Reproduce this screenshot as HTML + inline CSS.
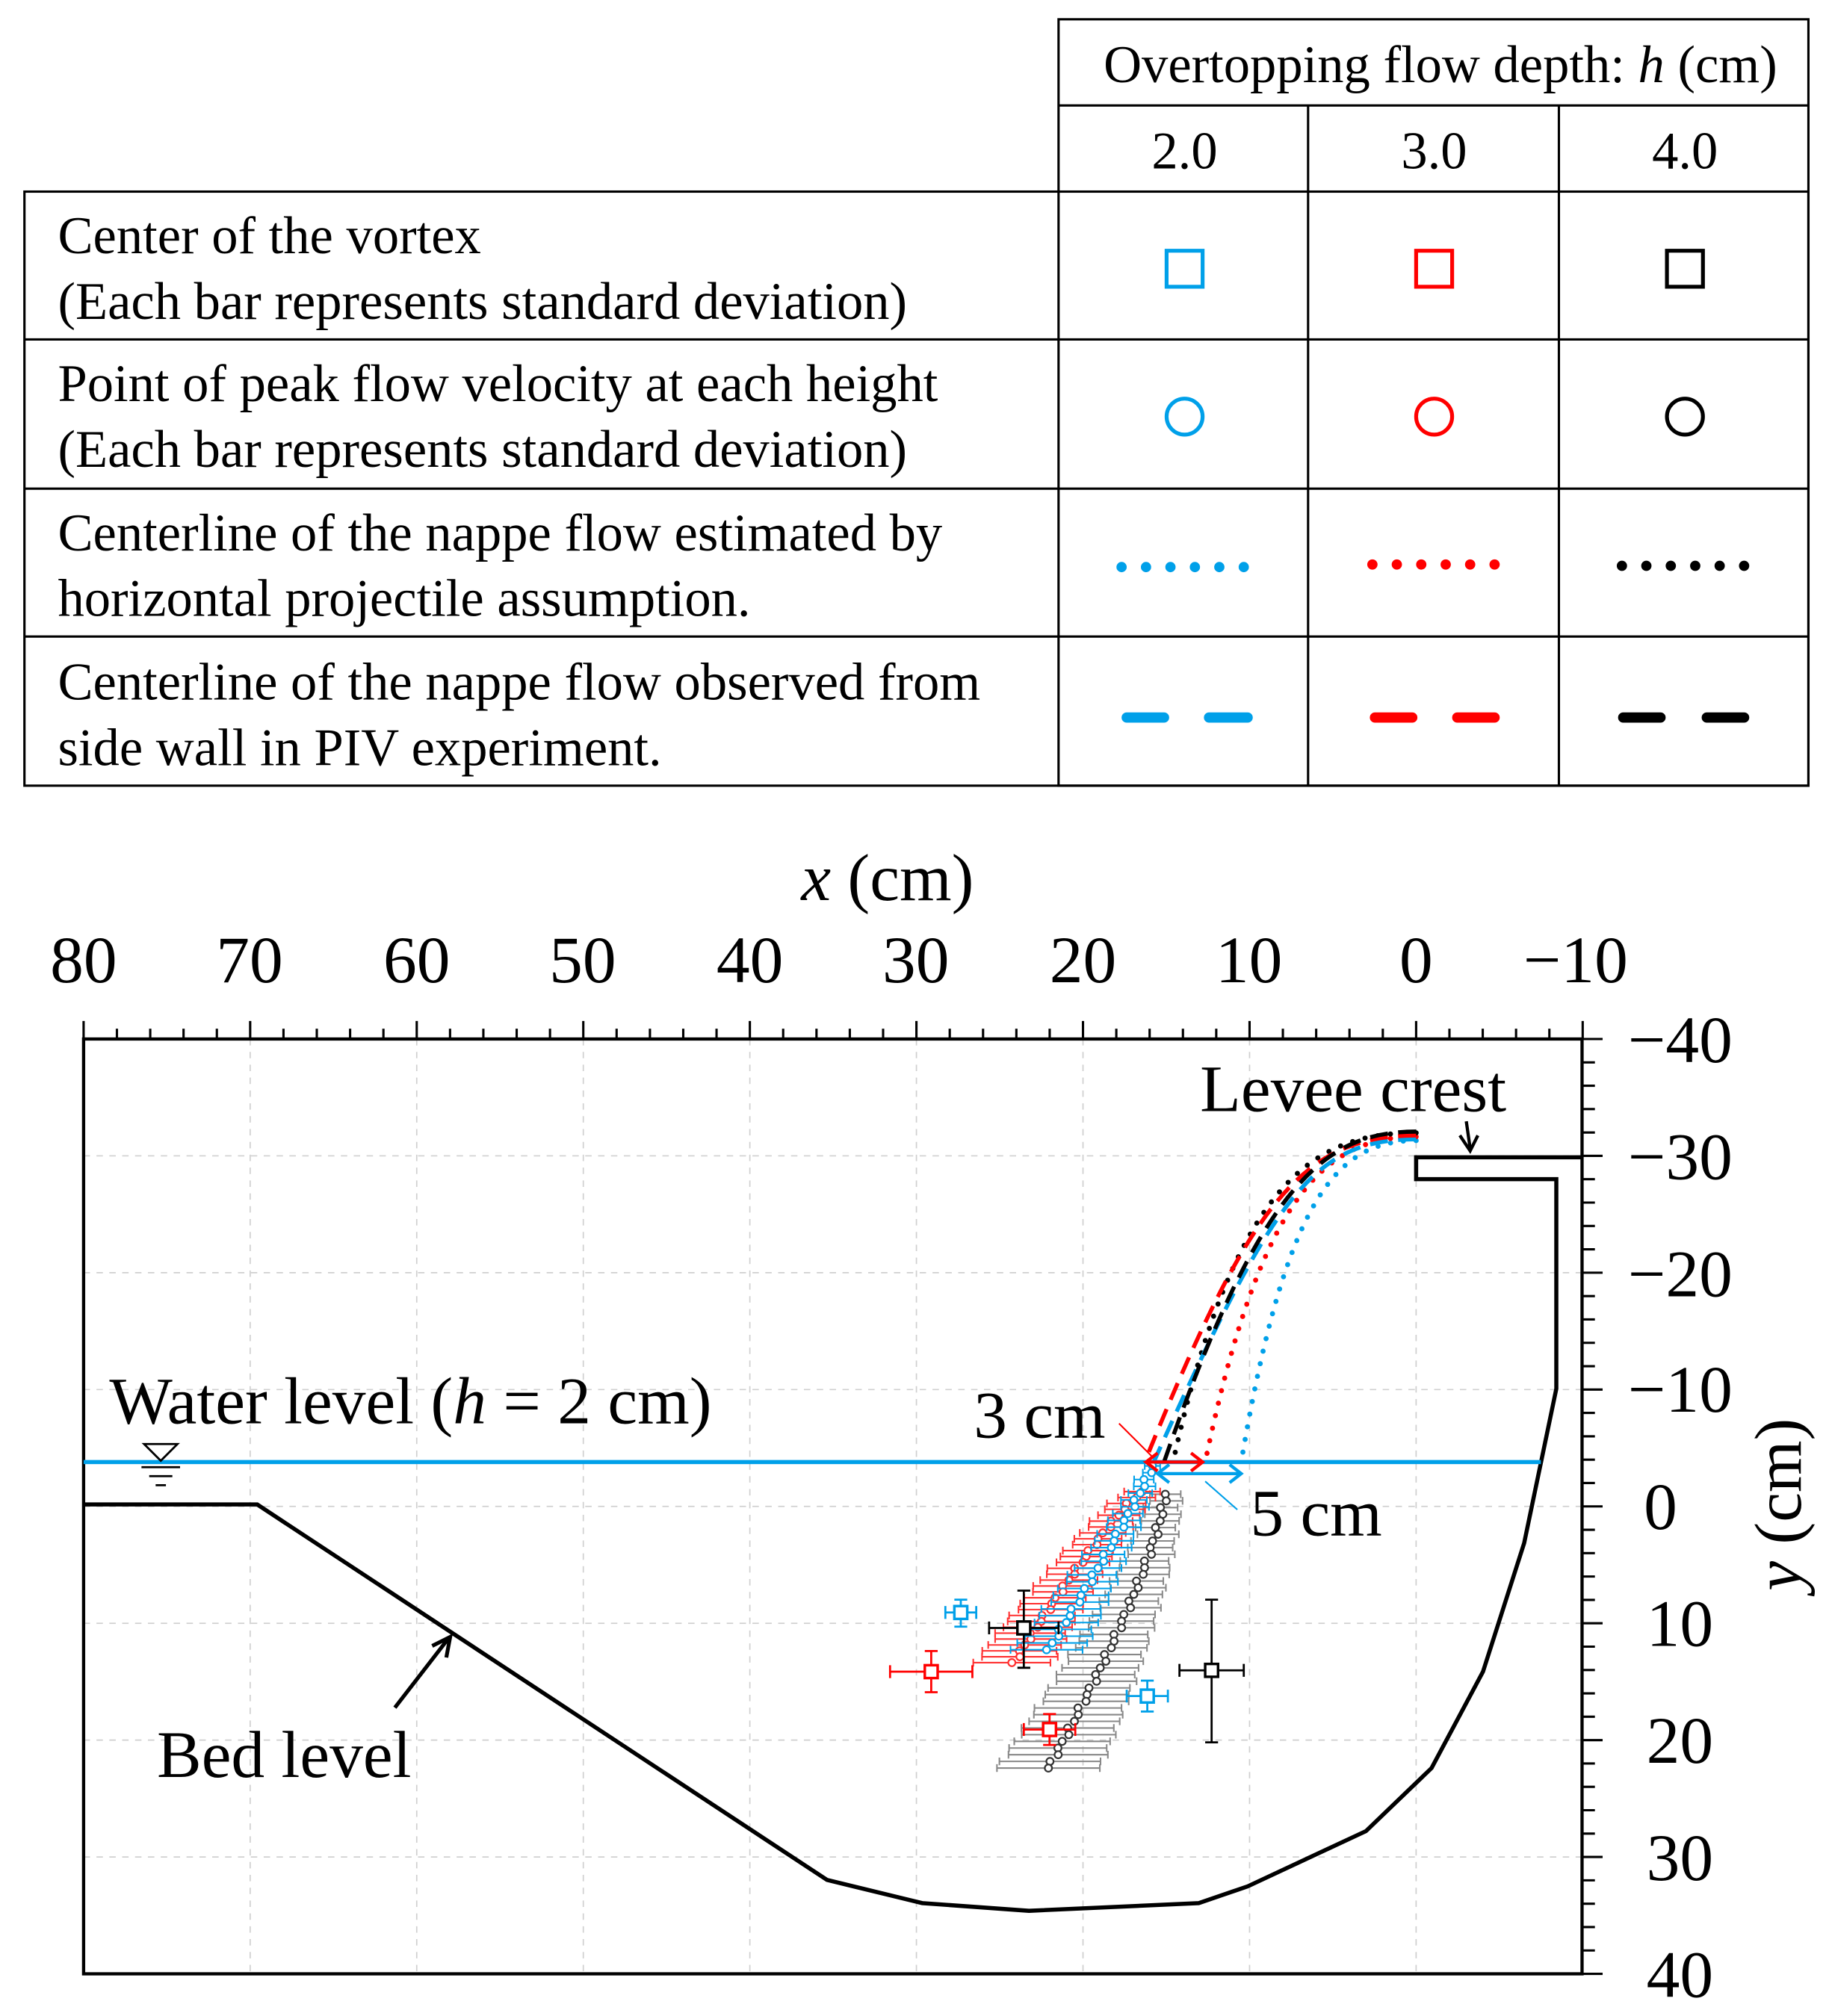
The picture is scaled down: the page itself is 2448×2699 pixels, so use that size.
<!DOCTYPE html>
<html><head><meta charset="utf-8"><style>
html,body{margin:0;padding:0;background:#fff}
svg{display:block}
text{font-family:"Liberation Serif",serif;fill:#000}
</style></head><body>
<svg id="s" xmlns="http://www.w3.org/2000/svg" width="2448" height="2699" viewBox="0 0 1422 1567.8">
<rect width="1422" height="1568" fill="#fff"/>
<g stroke="#000" stroke-width="1.8" fill="none">
<rect x="823" y="15" width="583" height="596"/>
<rect x="19" y="149" width="1387" height="462"/>
<line x1="823" y1="82" x2="1406" y2="82"/>
<line x1="1017" y1="82" x2="1017" y2="611"/>
<line x1="1212" y1="82" x2="1212" y2="611"/>
<line x1="19" y1="264" x2="1406" y2="264"/>
<line x1="19" y1="380" x2="1406" y2="380"/>
<line x1="19" y1="495" x2="1406" y2="495"/>
</g>
<g font-size="41">
<text x="858" y="64">Overtopping flow depth: <tspan font-style="italic">h</tspan>  (cm)</text>
<text x="921" y="131" text-anchor="middle">2.0</text>
<text x="1115" y="131" text-anchor="middle">3.0</text>
<text x="1310" y="131" text-anchor="middle">4.0</text>
<text x="45" y="197">Center of the vortex</text>
<text x="45" y="248">(Each bar represents standard deviation)</text>
<text x="45" y="312">Point of peak flow velocity at each height</text>
<text x="45" y="363">(Each bar represents standard deviation)</text>
<text x="45" y="428">Centerline of the nappe flow estimated by</text>
<text x="45" y="479">horizontal projectile assumption.</text>
<text x="45" y="544">Centerline of the nappe flow observed from</text>
<text x="45" y="595">side wall in PIV experiment.</text>
</g>
<g fill="none" stroke-width="3">
<rect x="907" y="195" width="28" height="28" stroke="#00a0e9"/>
<rect x="1101" y="195" width="28" height="28" stroke="#ff0000"/>
<rect x="1296" y="195" width="28" height="28" stroke="#000"/>
<circle cx="921" cy="324" r="14" stroke="#00a0e9"/>
<circle cx="1115" cy="324" r="14" stroke="#ff0000"/>
<circle cx="1310" cy="324" r="14" stroke="#000"/>
</g>
<g stroke-width="8" stroke-linecap="round" stroke-dasharray="0 19">
<line x1="872" y1="441" x2="968" y2="441" stroke="#00a0e9"/>
<line x1="1067" y1="439" x2="1163" y2="439" stroke="#ff0000"/>
<line x1="1261" y1="440" x2="1357" y2="440" stroke="#000"/>
</g>
<g stroke-width="8" stroke-linecap="round">
<path d="M876 558H905M940 558H970" stroke="#00a0e9"/>
<path d="M1069 558H1098M1133 558H1162" stroke="#ff0000"/>
<path d="M1262 558H1291M1327 558H1356" stroke="#000"/>
</g>
<g id="grid" stroke="#d0d0d0" stroke-width="1" stroke-dasharray="5 5"></g>
<rect x="65" y="808" width="1165" height="727" fill="none" stroke="#000" stroke-width="2.5"/>
<g id="ticks" stroke="#000" stroke-width="1.8"></g>
<g font-size="52">
<text x="690" y="700" text-anchor="middle"><tspan font-style="italic">x</tspan> (cm)</text>
<text x="65" y="764" text-anchor="middle">80</text>
<text x="194" y="764" text-anchor="middle">70</text>
<text x="324" y="764" text-anchor="middle">60</text>
<text x="453" y="764" text-anchor="middle">50</text>
<text x="583" y="764" text-anchor="middle">40</text>
<text x="712" y="764" text-anchor="middle">30</text>
<text x="842" y="764" text-anchor="middle">20</text>
<text x="971" y="764" text-anchor="middle">10</text>
<text x="1101" y="764" text-anchor="middle">0</text>
<text x="1225" y="764" text-anchor="middle">−10</text>
<text x="1347" y="826" text-anchor="end">−40</text>
<text x="1347" y="917" text-anchor="end">−30</text>
<text x="1347" y="1008" text-anchor="end">−20</text>
<text x="1347" y="1098" text-anchor="end">−10</text>
<text x="1304" y="1189" text-anchor="end">0</text>
<text x="1332" y="1280" text-anchor="end">10</text>
<text x="1332" y="1371" text-anchor="end">20</text>
<text x="1332" y="1462" text-anchor="end">30</text>
<text x="1332" y="1553" text-anchor="end">40</text>
<text transform="translate(1400,1170) rotate(-90)" text-anchor="middle"><tspan font-style="italic">y</tspan> (cm)</text>
<text x="933" y="864">Levee crest</text>
<text x="85" y="1107">Water level (<tspan font-style="italic">h</tspan> = 2 cm)</text>
<text x="757" y="1118">3 cm</text>
<text x="972" y="1194">5 cm</text>
<text x="122" y="1382">Bed level</text>
</g>
<path d="M65 1170H200L643 1462L717 1480L800 1486L932 1480L970 1467L1062 1424L1113 1375L1153 1300L1185 1200L1210 1080V917H1101V900H1230" fill="none" stroke="#000" stroke-width="3.2"/>
<path d="M1140 872L1143 893M1135 883L1143 895L1149 883" fill="none" stroke="#000" stroke-width="2.5"/>
<path d="M307 1328L348 1275M336 1280L350 1273L347 1289" fill="none" stroke="#000" stroke-width="3"/>
<line x1="65" y1="1137" x2="1198" y2="1137" stroke="#00a0e9" stroke-width="3.2"/>
<path d="M112 1123H138L125 1136Z" fill="none" stroke="#000" stroke-width="1.6"/>
<path d="M110 1141H140M116 1148H134M121 1155H129" stroke="#000" stroke-width="1.6"/>
<g fill="none" stroke-width="4" stroke-linecap="round">
<path d="M1101 887C1040 887 1000 930 965 1137" stroke="#00a0e9" stroke-dasharray="0 10"/>
<path d="M1101 884C1030 884 980 930 937 1137" stroke="#ff0000" stroke-dasharray="0 10"/>
<path d="M1101 881C1020 881 960 920 912 1137" stroke="#000" stroke-dasharray="0 10"/>
</g>
<g fill="none" stroke-width="3.2">
<path d="M1101 886C1020 886 990 930 897 1137" stroke="#00a0e9" stroke-dasharray="14 8"/>
<path d="M1101 883C1010 883 970 940 890 1137" stroke="#ff0000" stroke-dasharray="14 8"/>
<path d="M1101 880C1030 880 980 920 905 1137" stroke="#000" stroke-dasharray="14 8"/>
</g>
<g id="scatter" fill="none"></g>
<g fill="none" stroke-width="2.5">
<path d="M891 1137H935M900 1130L891 1137L900 1144M926 1130L935 1137L926 1144" stroke="#ff0000"/>
<path d="M900 1146H965M909 1139L900 1146L909 1153M956 1139L965 1146L956 1153" stroke="#00a0e9"/>
<line x1="870" y1="1107" x2="896" y2="1133" stroke="#ff0000" stroke-width="1.2"/>
<line x1="937" y1="1152" x2="962" y2="1174" stroke="#00a0e9" stroke-width="1.2"/>
</g>
</svg>
<script>
var NS="http://www.w3.org/2000/svg";
function el(p,t,a){var e=document.createElementNS(NS,t);for(var k in a)e.setAttribute(k,a[k]);document.getElementById(p).appendChild(e);return e;}
var X0=65,X1=1230,Y0=808,Y1=1535,px=(1101-65)/80,py=(1535-808)/80;
for(var i=1;i<9;i++){var x=65+i*10*px;el("grid","line",{x1:x,y1:Y0,x2:x,y2:Y1});var y=808+i*10*py;el("grid","line",{x1:X0,y1:y,x2:X1,y2:y});}
for(var i=0;i<=45;i++){var x=65+i*2*px;if(x>1231)break;var maj=(i%5==0);el("ticks","line",{x1:x,y1:808,x2:x,y2:maj?794:800});}
for(var i=0;i<=40;i++){var y=808+i*2*py;var maj=(i%5==0);el("ticks","line",{x1:1230,y1:y,x2:maj?1246:1240,y2:y});}
function series(n,ya,yb,xa,xb,pw,ea,eb,col,bar){for(var i=0;i<n;i++){var t=i/(n-1);var y=ya+(yb-ya)*t;var x=xa+(xb-xa)*Math.pow(t,pw)+(Math.sin(i*2.3)*2);var e=ea+(eb-ea)*t;
el("scatter","path",{d:"M"+(x-e)+" "+y+"H"+(x+e)+"M"+(x-e)+" "+(y-3)+"V"+(y+3)+"M"+(x+e)+" "+(y-3)+"V"+(y+3),stroke:bar,"stroke-width":1.2});
el("scatter","circle",{cx:x,cy:y,r:2.8,stroke:col,"stroke-width":1.3,fill:"#fff"});}}
series(42,1162,1375,906,815,1.3,12,40,"#333","#888");
series(30,1160,1293,888,788,0.85,14,30,"#ff3030","#ff3030");
series(28,1140,1283,896,815,1.1,6,28,"#00a0e9","#00a0e9");
function sq(x,y,ex,ey1,ey2,c){el("scatter","path",{d:"M"+(x-ex)+" "+y+"H"+(x+ex)+"M"+(x-ex)+" "+(y-5)+"V"+(y+5)+"M"+(x+ex)+" "+(y-5)+"V"+(y+5)+"M"+x+" "+ey1+"V"+ey2+"M"+(x-5)+" "+ey1+"H"+(x+5)+"M"+(x-5)+" "+ey2+"H"+(x+5),stroke:c,"stroke-width":1.6});
el("scatter","rect",{x:x-5,y:y-5,width:10,height:10,stroke:c,"stroke-width":2,fill:"#fff"});}
sq(747,1254,12,1244,1265,"#00a0e9");
sq(796,1266,27,1237,1297,"#000");
sq(724,1300,32,1284,1316,"#ff0000");
sq(892,1319,16,1307,1331,"#00a0e9");
sq(942,1299,25,1244,1355,"#000");
sq(816,1345,20,1333,1357,"#ff0000");
</script>
</body></html>
